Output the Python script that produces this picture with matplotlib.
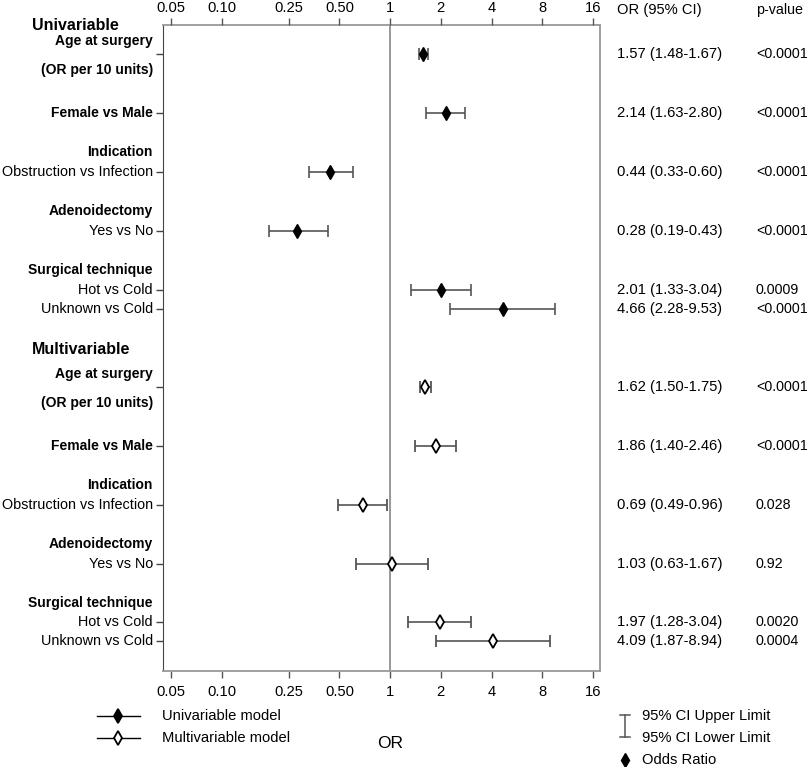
import numpy as np
import matplotlib
matplotlib.use("Agg")
import matplotlib.pyplot as plt
from matplotlib.transforms import blended_transform_factory

plt.rcParams['font.family'] = ['Liberation Sans', 'DejaVu Sans']
plt.rcParams['font.size'] = 10.6

# ---- data (odds ratios with 95% CI) ----
uni_or = [1.57, 2.14, 0.44, 0.28, 2.01, 4.66]
uni_lo = [1.48, 1.63, 0.33, 0.19, 1.33, 2.28]
uni_hi = [1.67, 2.80, 0.60, 0.43, 3.04, 9.53]
uni_p = ['<0.0001', '<0.0001', '<0.0001', '<0.0001', '0.0009', '<0.0001']

multi_or = [1.62, 1.86, 0.69, 1.03, 1.97, 4.09]
multi_lo = [1.50, 1.40, 0.49, 0.63, 1.28, 1.87]
multi_hi = [1.75, 2.46, 0.96, 1.67, 3.04, 8.94]
multi_p = ['<0.0001', '<0.0001', '0.028', '0.92', '0.0020', '0.0004']

row_labels = ['', 'Female vs Male', 'Obstruction vs Infection', 'Yes vs No',
              'Hot vs Cold', 'Unknown vs Cold']
row_bold = [True, True, False, False, False, False]
headings = ['Indication', 'Adenoidectomy', 'Surgical technique']

xticks = [0.05, 0.10, 0.25, 0.50, 1, 2, 4, 8, 16]
xtick_labels = ['0.05', '0.10', '0.25', '0.50', '1', '2', '4', '8', '16']

# ---- layout: y positions in image rows ----
uni_y = [54, 113, 172, 231, 290, 309]
multi_y = [387, 446, 505, 564, 622, 641]
uni_head_y = [152, 211, 270]
multi_head_y = [485, 544, 603]

W, H = 810, 767
fig = plt.figure(figsize=(W / 100, H / 100), dpi=100)
ax = fig.add_axes([162.7 / W, 1 - 671 / H, (600 - 162.7) / W, (671 - 24.5) / H])
ax.set_xscale('log')
ax.set_xlim(0.0447, 17.6)
ax.set_ylim(671, 24.5)

ax.axvline(1, color='#888888', lw=1.2, zorder=1)

ebc = '#555555'
ms = 7.6
ax.errorbar(uni_or, uni_y,
            xerr=[np.subtract(uni_or, uni_lo), np.subtract(uni_hi, uni_or)],
            fmt='d', color='black', ecolor=ebc, elinewidth=1.2, capsize=4.3,
            capthick=1.2, markersize=ms, markerfacecolor='black',
            markeredgecolor='black', zorder=3)
ax.errorbar(multi_or, multi_y,
            xerr=[np.subtract(multi_or, multi_lo), np.subtract(multi_hi, multi_or)],
            fmt='d', color='black', ecolor=ebc, elinewidth=1.2, capsize=4.3,
            capthick=1.2, markersize=ms, markerfacecolor='white',
            markeredgecolor='black', markeredgewidth=1.3, zorder=3)

# frame
for side in ['top', 'bottom', 'right']:
    ax.spines[side].set_color('#999999')
    ax.spines[side].set_linewidth(1.3)
ax.spines['left'].set_color('#444444')

# x ticks bottom
ax.set_xticks(xticks)
ax.set_xticklabels(xtick_labels)
ax.minorticks_off()
ax.tick_params(axis='x', direction='out', length=5, width=1, color='#555555',
               pad=5, labelsize=10.6)

# x ticks top
ax2 = ax.twiny()
ax2.set_xscale('log')
ax2.set_xlim(ax.get_xlim())
ax2.set_xticks(xticks)
ax2.set_xticklabels(xtick_labels)
ax2.minorticks_off()
ax2.tick_params(axis='x', direction='out', length=5, width=1, color='#555555',
                pad=2, labelsize=10.6)
for s in ax2.spines.values():
    s.set_visible(False)

# y ticks (data rows)
ax.set_yticks(uni_y + multi_y)
ax.set_yticklabels([])
ax.tick_params(axis='y', direction='out', length=5, width=1, color='#444444')

tr = blended_transform_factory(fig.transFigure, ax.transData)
lab_x = 153 / W

for ys, head_ys, title, title_y, ors, los, his, ps in [
        (uni_y, uni_head_y, 'Univariable', 25, uni_or, uni_lo, uni_hi, uni_p),
        (multi_y, multi_head_y, 'Multivariable', 349, multi_or, multi_lo, multi_hi, multi_p)]:
    ax.text(32 / W, title_y, title, transform=tr, ha='left', va='center',
            fontsize=11.5, fontweight='bold', clip_on=False)
    ax.text(lab_x, ys[0] - 13, 'Age at surgery', transform=tr, ha='right',
            va='center', fontsize=10, fontweight='bold', clip_on=False)
    ax.text(lab_x, ys[0] + 16, '(OR per 10 units)', transform=tr, ha='right',
            va='center', fontsize=10, fontweight='bold', clip_on=False)
    for y, lab, b in zip(ys, row_labels, row_bold):
        if lab:
            ax.text(lab_x, y, lab, transform=tr, ha='right', va='center',
                    fontsize=10 if b else 10.4,
                    fontweight='bold' if b else 'normal', clip_on=False)
    for y, lab in zip(head_ys, headings):
        ax.text(lab_x, y, lab, transform=tr, ha='right', va='center',
                fontsize=10, fontweight='bold', clip_on=False)
    for y, o, l, h, p in zip(ys, ors, los, his, ps):
        ax.text(617 / W, y, '%.2f (%.2f-%.2f)' % (o, l, h), transform=tr,
                ha='left', va='center', clip_on=False)
        ax.text(756 / W, y, p, transform=tr, ha='left', va='center',
                fontsize=10.3, clip_on=False)

# column headers
ax.text(617 / W, 10, 'OR (95% CI)', transform=tr, ha='left', va='center', clip_on=False)
ax.text(756 / W, 10, 'p-value', transform=tr, ha='left', va='center',
        fontsize=10.3, clip_on=False)

# ---- bottom legend ----
def fx(px):
    return px / W

def fy(py):
    return 1 - py / H

for py, face, name in [(716, 'black', 'Univariable model'),
                       (738, 'white', 'Multivariable model')]:
    fig.add_artist(plt.Line2D([fx(97), fx(140)], [fy(py), fy(py)], color='black',
                              lw=1.0, transform=fig.transFigure))
    fig.add_artist(plt.Line2D([fx(118.5)], [fy(py)], marker='d', markersize=ms,
                              markerfacecolor=face, markeredgecolor='black',
                              markeredgewidth=1.3, transform=fig.transFigure))
    fig.text(fx(162), fy(py), name, ha='left', va='center')

fig.text(fx(390), fy(743), 'OR', ha='center', va='center', fontsize=12.5)

# CI legend
fig.add_artist(plt.Line2D([fx(625), fx(625)], [fy(715), fy(737)], color=ebc,
                          lw=1.1, transform=fig.transFigure))
for py in [715, 737]:
    fig.add_artist(plt.Line2D([fx(620), fx(630)], [fy(py), fy(py)], color=ebc,
                              lw=1.1, transform=fig.transFigure))
fig.text(fx(642), fy(716), '95% CI Upper Limit', ha='left', va='center')
fig.text(fx(642), fy(738), '95% CI Lower Limit', ha='left', va='center')
fig.add_artist(plt.Line2D([fx(625)], [fy(760)], marker='d', markersize=ms,
                          markerfacecolor='black', markeredgecolor='black',
                          transform=fig.transFigure))
fig.text(fx(642), fy(760), 'Odds Ratio', ha='left', va='center')

fig.savefig('out.png', dpi=100)
